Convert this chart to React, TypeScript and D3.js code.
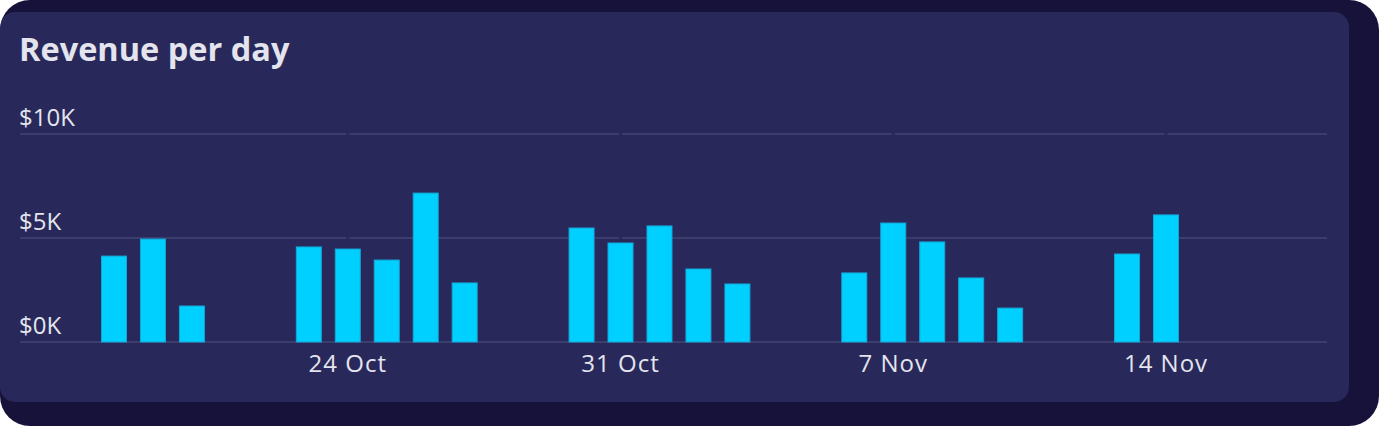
import React from "react";
import * as d3 from "d3";

const dates: string[] = [
  "2022-10-18", "2022-10-19", "2022-10-20",
  "2022-10-23", "2022-10-24", "2022-10-25", "2022-10-26", "2022-10-27",
  "2022-10-30", "2022-10-31", "2022-11-01", "2022-11-02", "2022-11-03",
  "2022-11-06", "2022-11-07", "2022-11-08", "2022-11-09", "2022-11-10",
  "2022-11-13", "2022-11-14",
];
const revenue: number[] = [
  4130, 4950, 1730,
  4570, 4470, 3940, 7160, 2840,
  5480, 4760, 5580, 3510, 2790,
  3320, 5720, 4810, 3080, 1630,
  4230, 6110,
];
const yTicks: number[] = [0, 5000, 10000];
const xTickDates: string[] = ["2022-10-24", "2022-10-31", "2022-11-07", "2022-11-14"];

const W = 1379;
const H = 426;

const parse = d3.utcParse("%Y-%m-%d");

export default function App() {
  const x = d3
    .scaleUtc()
    .domain([parse("2022-10-18")!, parse("2022-11-14")!])
    .range([114, 1166]);
  const y = d3.scaleLinear().domain([0, 10000]).range([342, 134]);
  const fmtY = (v: number) => `$${v / 1000}K`;
  const fmtX = d3.utcFormat("%-d %b");
  const barW = 25;
  const font = "'Open Sans', Lato, sans-serif";
  return (
    <>
      <style>{`body{margin:0}`}</style>
      <svg width={W} height={H} style={{ display: "block" }}>
        <defs>
          <clipPath id="outer">
            <rect x={0} y={0} width={W} height={H} rx={30} />
          </clipPath>
        </defs>
        <g clipPath="url(#outer)">
          <rect x={0} y={0} width={W} height={H} fill="#17123a" />
          <rect x={0} y={12} width={1349} height={390} rx={15} fill="#28295a" />
        </g>
        <text x={19} y={61} fill="#e4e4ee" fontFamily={font} fontWeight={700} fontSize={32.5}>
          Revenue per day
        </text>
        {yTicks.map((t) => (
          <g key={t}>
            <line x1={20} x2={1327} y1={y(t)} y2={y(t)} stroke="#3b3d6c" strokeWidth={2} />
            <text x={19} y={y(t) - 8} fill="#e4e4ee" fontFamily={font} fontSize={24}>
              {fmtY(t)}
            </text>
          </g>
        ))}
        {xTickDates.map((d) => (
          <line key={"g" + d} x1={x(parse(d)!)} x2={x(parse(d)!)} y1={120} y2={330} stroke="#28295a" strokeWidth={3} />
        ))}
        {dates.map((d, i) => (
          <rect
            key={d}
            x={x(parse(d)!) - barW / 2}
            y={y(revenue[i])}
            width={barW}
            height={y(0) - y(revenue[i])}
            fill="#00d0ff"
            stroke="#14a6d6"
            strokeWidth={1}
          />
        ))}
        {xTickDates.map((d) => (
          <text key={d} x={x(parse(d)!)} y={372} textAnchor="middle" fill="#e4e4ee" fontFamily={font} fontSize={24} letterSpacing={1}>
            {fmtX(parse(d)!)}
          </text>
        ))}
      </svg>
    </>
  );
}
